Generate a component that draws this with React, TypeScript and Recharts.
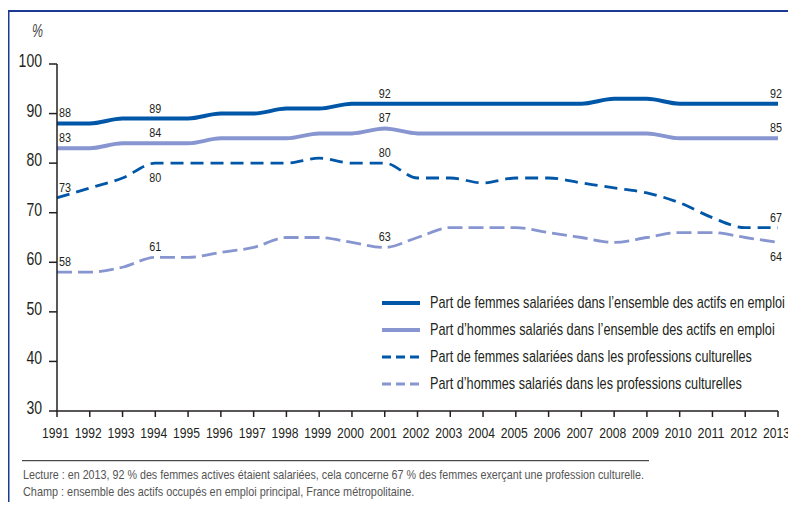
import { LineChart, Line, XAxis, YAxis, Legend, LabelList } from 'recharts'

const years = [
  '1991', '1992', '1993', '1994', '1995', '1996', '1997', '1998', '1999', '2000', '2001', '2002',
  '2003', '2004', '2005', '2006', '2007', '2008', '2009', '2010', '2011', '2012', '2013',
]
const femmesEmploi = [88, 88, 89, 89, 89, 90, 90, 91, 91, 92, 92, 92, 92, 92, 92, 92, 92, 93, 93, 92, 92, 92, 92]
const hommesEmploi = [83, 83, 84, 84, 84, 85, 85, 85, 86, 86, 87, 86, 86, 86, 86, 86, 86, 86, 86, 85, 85, 85, 85]
const femmesCulture = [73, 75, 77, 80, 80, 80, 80, 80, 81, 80, 80, 77, 77, 76, 77, 77, 76, 75, 74, 72, 69, 67, 67]
const hommesCulture = [58, 58, 59, 61, 61, 62, 63, 65, 65, 64, 63, 65, 67, 67, 67, 66, 65, 64, 65, 66, 66, 65, 64]
const yTicks = [30, 40, 50, 60, 70, 80, 90, 100]

// années annotées et libellés placés sous la courbe
const labelled = [0, 3, 10, 22]
const below: Record<string, number[]> = {
  fc: [3],
  hc: [22],
}

const lecture =
  'Lecture : en 2013, 92 % des femmes actives étaient salariées, cela concerne 67 % des femmes exerçant une profession culturelle.'
const champ = 'Champ : ensemble des actifs occupés en emploi principal, France métropolitaine.'

const DARK = '#0057a8'
const LIGHT = '#8796d0'
const INK = '#231f20'
const FONT_NAME = 'Liberation Sans'
const FONT = "'Liberation Sans', Arial, sans-serif"

const data = years.map((year, i) => ({
  year,
  fe: femmesEmploi[i],
  he: hommesEmploi[i],
  fc: femmesCulture[i],
  hc: hommesCulture[i],
}))

const series = [
  { key: 'fe', name: 'Part de femmes salariées dans l\u2019ensemble des actifs en emploi', color: DARK, width: 4, dash: undefined, textW: 355 },
  { key: 'he', name: 'Part d\u2019hommes salariés dans l\u2019ensemble des actifs en emploi', color: LIGHT, width: 4, dash: undefined, textW: 345 },
  { key: 'fc', name: 'Part de femmes salariées dans les professions culturelles', color: DARK, width: 2.8, dash: '13 7', textW: 322 },
  { key: 'hc', name: 'Part d\u2019hommes salariés dans les professions culturelles', color: LIGHT, width: 2.8, dash: '15 6', textW: 312 },
]

// pas de police condensée installée : on mesure le texte et on le resserre horizontalement
let ctx: CanvasRenderingContext2D | null = null
function measure(text: string, size: number, italic = false) {
  if (!ctx) ctx = document.createElement('canvas').getContext('2d')
  if (!ctx) return text.length * size * 0.5
  ctx.font = `${italic ? 'italic ' : ''}${size}px "${FONT_NAME}"`
  return ctx.measureText(text).width
}

function Squeeze({
  x,
  y,
  text,
  size,
  width,
  anchor = 'start',
  fill = INK,
  italic = false,
}: {
  x: number
  y: number
  text: string
  size: number
  width: number
  anchor?: 'start' | 'middle' | 'end'
  fill?: string
  italic?: boolean
}) {
  const sx = Math.min(1, width / measure(text, size, italic))
  return (
    <text
      x={0}
      y={0}
      transform={`translate(${x},${y}) scale(${sx.toFixed(4)},1)`}
      textAnchor={anchor}
      fontSize={size}
      fontFamily={FONT}
      fontStyle={italic ? 'italic' : undefined}
      fill={fill}
    >
      {text}
    </text>
  )
}

function XTick(props: any) {
  const { x, y, payload } = props
  return <Squeeze x={x - 1.5} y={y + 17} text={String(payload.value)} size={15.5} width={27} anchor="middle" />
}

function YTick(props: any) {
  const { x, y, payload } = props
  const s = String(payload.value)
  return <Squeeze x={x - 1} y={y + 3} text={s} size={18} width={s.length * 7.8} anchor="end" />
}

function makeLabel(key: string) {
  return (props: any) => {
    const { x, y, value, index } = props
    if (!labelled.includes(index)) return null
    const isBelow = (below[key] || []).includes(index)
    const anchor = index === 0 ? 'start' : 'middle'
    const dx = index === 0 ? 2 : index === years.length - 1 ? -2 : 0
    return <Squeeze x={x + dx} y={isBelow ? y + 19 : y - 6} text={String(value)} size={13.5} width={12} anchor={anchor} />
  }
}

function LegendBox() {
  return (
    <svg width={420} height={115}>
      {series.map((s, i) => (
        <g key={s.key}>
          <line
            x1={8}
            x2={46}
            y1={15 + i * 27}
            y2={15 + i * 27}
            stroke={s.color}
            strokeWidth={s.width}
            strokeDasharray={s.dash ? '9 5' : undefined}
          />
          <Squeeze x={56} y={19.5 + i * 27} text={s.name} size={16} width={s.textW} />
        </g>
      ))}
    </svg>
  )
}

export default function App() {
  return (
    <div style={{ position: 'relative', width: 788, height: 502, marginBottom: -8, background: '#fff' }}>
      <svg width={788} height={502} style={{ position: 'absolute', left: 0, top: 0 }}>
        <line x1={0} x2={788} y1={3} y2={3} stroke="#1b3a93" strokeWidth={2} />
        <line x1={0.5} x2={0.5} y1={3} y2={502} stroke="#1b3a93" strokeWidth={2} />
        <Squeeze x={24} y={29} text="%" size={18} width={11} fill="#444" italic />
        <line x1={14} x2={641} y1={452.7} y2={452.7} stroke={INK} strokeWidth={1} />
        <Squeeze x={15} y={470.5} text={lecture} size={13} width={622} fill="#555" />
        <Squeeze x={15} y={488} text={champ} size={13} width={392} fill="#555" />
      </svg>
      <div style={{ position: 'absolute', left: 0, top: 0 }}>
        <LineChart width={788} height={502} data={data} margin={{ top: 56, right: 18, left: 9, bottom: 69 }}>
          <XAxis
            dataKey="year"
            interval={0}
            tickSize={6}
            tickMargin={4}
            height={30}
            stroke={INK}
            strokeWidth={1.5}
            tick={<XTick />}
          />
          <YAxis
            type="number"
            domain={[30, 100]}
            ticks={yTicks}
            interval={0}
            width={40}
            tickSize={8}
            tickMargin={6}
            stroke={INK}
            strokeWidth={1.5}
            tick={<YTick />}
          />
          <Legend
            layout="horizontal"
            verticalAlign="middle"
            align="center"
            wrapperStyle={{ left: 366, top: 280, width: 420 }}
            content={() => <LegendBox />}
          />
          {series.map((s) => (
            <Line
              key={s.key}
              dataKey={s.key}
              name={s.name}
              type="monotone"
              stroke={s.color}
              strokeWidth={s.width}
              strokeDasharray={s.dash}
              dot={false}
              activeDot={false}
              isAnimationActive={false}
            >
              <LabelList dataKey={s.key} content={makeLabel(s.key)} />
            </Line>
          ))}
        </LineChart>
      </div>
    </div>
  )
}
